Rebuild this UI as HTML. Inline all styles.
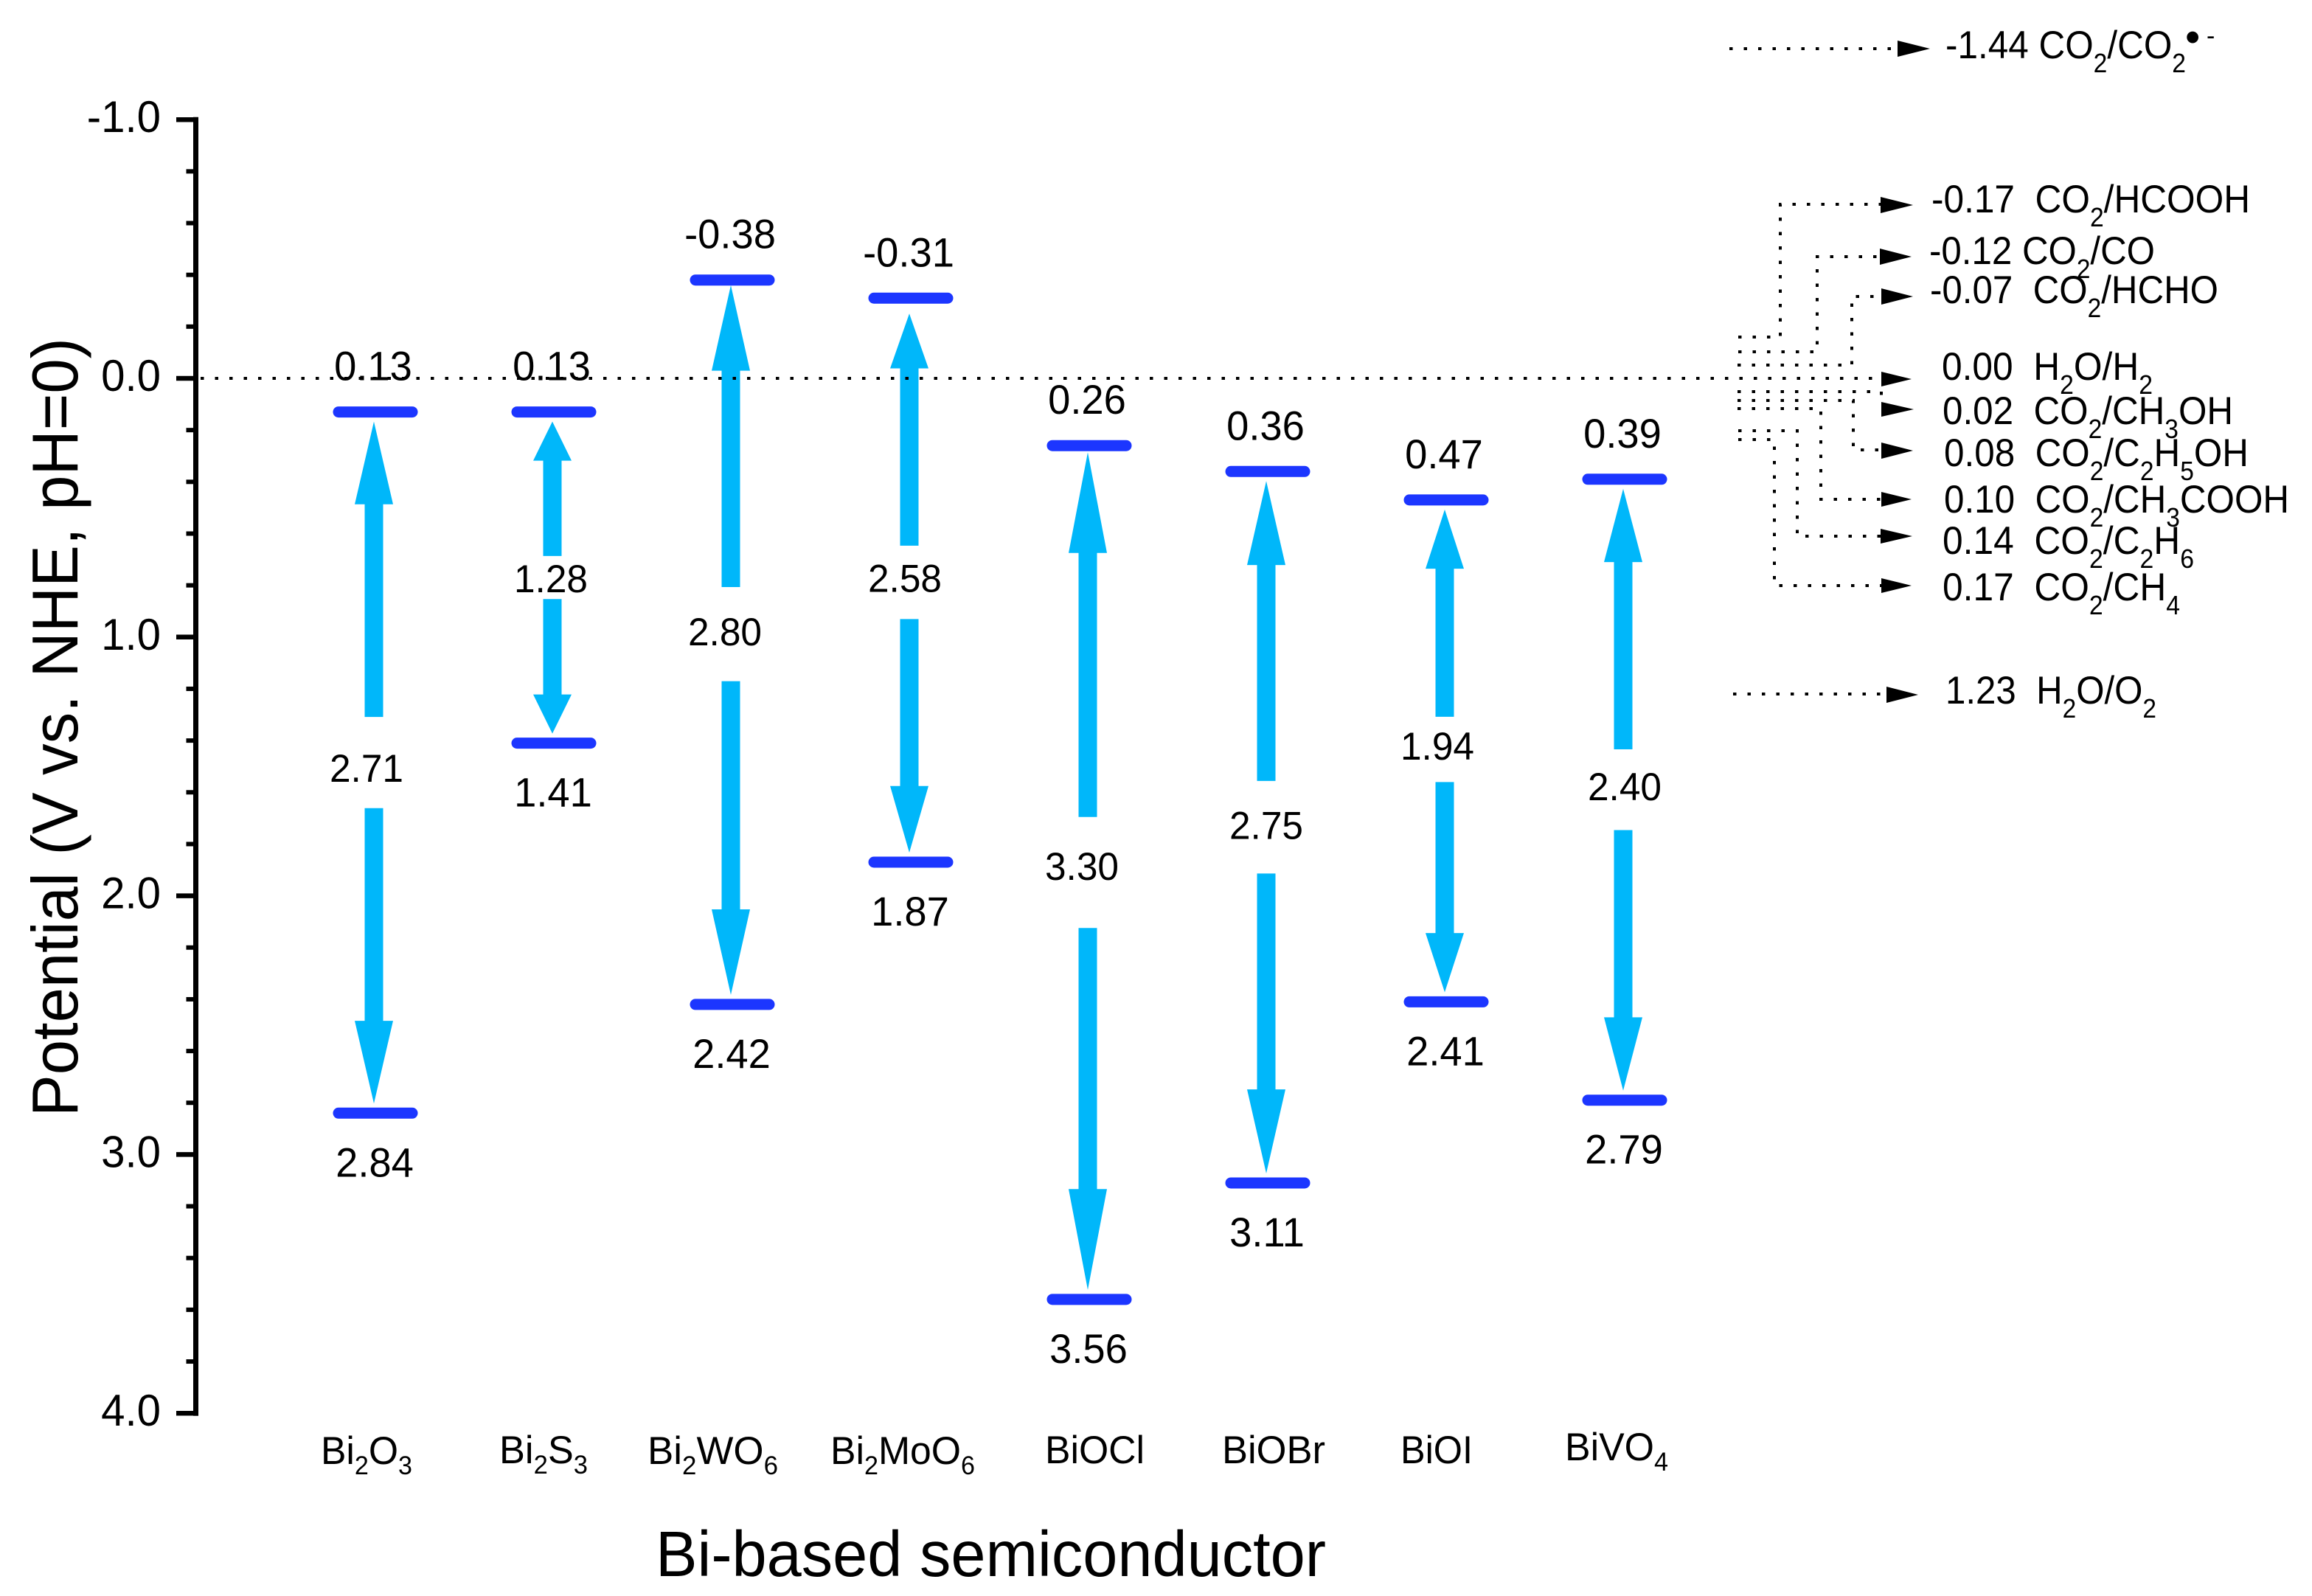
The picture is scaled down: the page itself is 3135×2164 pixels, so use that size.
<!DOCTYPE html>
<html lang="en">
<head>
<meta charset="utf-8">
<title>Band positions of Bi-based semiconductors</title>
<style>
  html, body { margin: 0; padding: 0; background: #fff; }
  svg { display: block; font-family: "Liberation Sans", Arial, sans-serif; fill: #000; }
  text { white-space: pre; }
  .dots { fill: none; stroke: #000; stroke-width: 4; stroke-dasharray: 4.5 15; }
  .couple { font-size: 53px; }
  .cat { font-size: 53px; }
</style>
</head>
<body>
<svg id="chart" xmlns="http://www.w3.org/2000/svg" width="3135" height="2164" viewBox="0 0 3135 2164">
  <rect width="3135" height="2164" fill="#fff"/>
  <g id="marks"></g>
  <g id="y-axis"></g>

  <text transform="translate(105,986) rotate(-90)" text-anchor="middle" font-size="88" textLength="1056" lengthAdjust="spacingAndGlyphs">Potential (V vs. NHE, pH=0)</text>
  <text x="889" y="2137" font-size="87" textLength="909" lengthAdjust="spacingAndGlyphs">Bi-based semiconductor</text>

  <g>
    <text class="cat" x="435" y="1985" textLength="124" lengthAdjust="spacingAndGlyphs">Bi<tspan font-size="35" dy="14">2</tspan><tspan dy="-14">O</tspan><tspan font-size="35" dy="14">3</tspan></text>
    <text class="cat" x="677" y="1984" textLength="120" lengthAdjust="spacingAndGlyphs">Bi<tspan font-size="35" dy="14">2</tspan><tspan dy="-14">S</tspan><tspan font-size="35" dy="14">3</tspan></text>
    <text class="cat" x="878" y="1985" textLength="177" lengthAdjust="spacingAndGlyphs">Bi<tspan font-size="35" dy="14">2</tspan><tspan dy="-14">WO</tspan><tspan font-size="35" dy="14">6</tspan></text>
    <text class="cat" x="1126" y="1985" textLength="196" lengthAdjust="spacingAndGlyphs">Bi<tspan font-size="35" dy="14">2</tspan><tspan dy="-14">MoO</tspan><tspan font-size="35" dy="14">6</tspan></text>
    <text class="cat" x="1417" y="1984" textLength="135" lengthAdjust="spacingAndGlyphs">BiOCl</text>
    <text class="cat" x="1657" y="1984" textLength="140" lengthAdjust="spacingAndGlyphs">BiOBr</text>
    <text class="cat" x="1899" y="1984" textLength="98" lengthAdjust="spacingAndGlyphs">BiOI</text>
    <text class="cat" x="2122" y="1980" textLength="140" lengthAdjust="spacingAndGlyphs">BiVO<tspan font-size="35" dy="14">4</tspan></text>
  </g>

  <g>
    <g>
      <path class="dots" d="M2345 66H2573"/>
      <polygon points="2573,55 2617,66 2573,77"/>
      <text class="couple" x="2638" y="79" textLength="326" lengthAdjust="spacingAndGlyphs">-1.44 CO<tspan font-size="36" dy="19">2</tspan><tspan dy="-19">/CO</tspan><tspan font-size="36" dy="19">2</tspan></text>
      <text x="2963" y="70" font-size="58">•</text>
      <text x="2992" y="60" font-size="34">-</text>
    </g>
    <g>
      <path class="dots" d="M2357 457H2414V277H2550"/>
      <polygon points="2550,267 2594,278 2550,289"/>
      <text class="couple" x="2619" y="288" textLength="432" lengthAdjust="spacingAndGlyphs">-0.17  CO<tspan font-size="36" dy="19">2</tspan><tspan dy="-19">/HCOOH</tspan></text>
    </g>
    <g>
      <path class="dots" d="M2357 477H2464V348H2549"/>
      <polygon points="2549,337 2592,348 2549,359"/>
      <text class="couple" x="2616" y="358" textLength="306" lengthAdjust="spacingAndGlyphs">-0.12 CO<tspan font-size="36" dy="19">2</tspan><tspan dy="-19">/CO</tspan></text>
    </g>
    <g>
      <path class="dots" d="M2356 495H2511V402H2551"/>
      <polygon points="2551,391 2594,402 2551,413"/>
      <text class="couple" x="2617" y="411" textLength="391" lengthAdjust="spacingAndGlyphs">-0.07  CO<tspan font-size="36" dy="19">2</tspan><tspan dy="-19">/HCHO</tspan></text>
    </g>
    <g>
      <polygon points="2551,504 2592,514 2551,524"/>
      <text class="couple" x="2633" y="515" textLength="286" lengthAdjust="spacingAndGlyphs">0.00  H<tspan font-size="36" dy="19">2</tspan><tspan dy="-19">O/H</tspan><tspan font-size="36" dy="19">2</tspan></text>
    </g>
    <g>
      <path class="dots" d="M2356 531H2551V546"/>
      <polygon points="2551,545 2595,555 2551,565"/>
      <text class="couple" x="2634" y="575" textLength="394" lengthAdjust="spacingAndGlyphs">0.02  CO<tspan font-size="36" dy="19">2</tspan><tspan dy="-19">/CH</tspan><tspan font-size="36" dy="19">3</tspan><tspan dy="-19">OH</tspan></text>
    </g>
    <g>
      <path class="dots" d="M2356 543H2513V610H2551"/>
      <polygon points="2551,600 2594,611 2551,622"/>
      <text class="couple" x="2636" y="632" textLength="413" lengthAdjust="spacingAndGlyphs">0.08  CO<tspan font-size="36" dy="19">2</tspan><tspan dy="-19">/C</tspan><tspan font-size="36" dy="19">2</tspan><tspan dy="-19">H</tspan><tspan font-size="36" dy="19">5</tspan><tspan dy="-19">OH</tspan></text>
    </g>
    <g>
      <path class="dots" d="M2356 554H2469V677H2551"/>
      <polygon points="2551,667 2592,677 2551,687"/>
      <text class="couple" x="2636" y="695" textLength="468" lengthAdjust="spacingAndGlyphs">0.10  CO<tspan font-size="36" dy="19">2</tspan><tspan dy="-19">/CH</tspan><tspan font-size="36" dy="19">3</tspan><tspan dy="-19">COOH</tspan></text>
    </g>
    <g>
      <path class="dots" d="M2357 584H2437V727H2550"/>
      <polygon points="2550,717 2593,727 2550,737"/>
      <text class="couple" x="2634" y="751" textLength="341" lengthAdjust="spacingAndGlyphs">0.14  CO<tspan font-size="36" dy="19">2</tspan><tspan dy="-19">/C</tspan><tspan font-size="36" dy="19">2</tspan><tspan dy="-19">H</tspan><tspan font-size="36" dy="19">6</tspan></text>
    </g>
    <g>
      <path class="dots" d="M2357 596H2406V794H2551"/>
      <polygon points="2551,784 2592,794 2551,804"/>
      <text class="couple" x="2634" y="814" textLength="322" lengthAdjust="spacingAndGlyphs">0.17  CO<tspan font-size="36" dy="19">2</tspan><tspan dy="-19">/CH</tspan><tspan font-size="36" dy="19">4</tspan></text>
    </g>
    <g>
      <path class="dots" d="M2350 941H2558"/>
      <polygon points="2558,931 2601,942 2558,953"/>
      <text class="couple" x="2638" y="954" textLength="286" lengthAdjust="spacingAndGlyphs">1.23  H<tspan font-size="36" dy="19">2</tspan><tspan dy="-19">O/O</tspan><tspan font-size="36" dy="19">2</tspan></text>
    </g>
  </g>
</svg>

<script>
// Chart data (potential in V vs. NHE)
const categories = ['Bi2O3', 'Bi2S3', 'Bi2WO6', 'Bi2MoO6', 'BiOCl', 'BiOBr', 'BiOI', 'BiVO4'];
const conductionBand = [0.13, 0.13, -0.38, -0.31, 0.26, 0.36, 0.47, 0.39];
const valenceBand = [2.84, 1.41, 2.42, 1.87, 3.56, 3.11, 2.41, 2.79];
const bandGap = [2.71, 1.28, 2.80, 2.58, 3.30, 2.75, 1.94, 2.40];
const yMajorTicks = [-1, 0, 1, 2, 3, 4];
const yTickLabels = ['-1.0', '0.0', '1.0', '2.0', '3.0', '4.0'];
const yMinorTicks = [-0.8, -0.6, -0.4, -0.2, 0.2, 0.4, 0.6, 0.8, 1.2, 1.4, 1.6, 1.8, 2.2, 2.4, 2.6, 2.8, 3.2, 3.4, 3.6, 3.8];

// Hand-placement offsets of the original's drawn arrows and gap labels, relative to computed positions
const nudges = {
  Bi2O3: { lx: -4, ly: 8 },
  Bi2S3: { lx: 4, ly: 2 },
  Bi2WO6: { gap: -11, lx: -2, ly: -14, tip: -6 },
  Bi2MoO6: { gap: 3, ly: -2, tip: 8, head: -16 },
  BiOCl: { lx: -2, ly: -8, tip: -4 },
  BiOBr: { lx: 6, ly: -2 },
  BiOI: { gap: -2, lx: -4, ly: -6 },
  BiVO4: { lx: 8, ly: -4 }
};

const SVG_NS = 'http://www.w3.org/2000/svg';
const marks = document.getElementById('marks');
const yAxis = document.getElementById('y-axis');

function yScale(v) { return 513 + v * 350.8; }
function xScale(i) { return 509 + i * 242; }

function mk(parent, tag, attrs, txt) {
  const el = document.createElementNS(SVG_NS, tag);
  for (const k in attrs) el.setAttribute(k, attrs[k]);
  if (txt !== undefined) el.textContent = txt;
  parent.appendChild(el);
  return el;
}

// The reference's type is slightly condensed: keep the height, tighten the run width.
function condense(el, factor) {
  el.setAttribute('textLength', el.getComputedTextLength() * factor);
  el.setAttribute('lengthAdjust', 'spacingAndGlyphs');
}

// y axis
const axisX = 265.5;
const spine = mk(yAxis, 'line', { x1: axisX, x2: axisX, y1: yScale(-1) - 3.5, y2: yScale(4) + 3.5, stroke: '#000', 'stroke-width': 7 });



yMajorTicks.forEach((v, i) => {
  const tick = mk(yAxis, 'line', { x1: 239, x2: axisX, y1: yScale(v), y2: yScale(v), stroke: '#000', 'stroke-width': 6.5 });
  
  
  const label = mk(yAxis, 'text', { x: 218, y: yScale(v) + 17, 'text-anchor': 'end', 'font-size': 60 }, yTickLabels[i]);
  
  
  condense(label, 0.97);
});

yMinorTicks.forEach(v => {
  const tick = mk(yAxis, 'line', { x1: 252.5, x2: axisX, y1: yScale(v), y2: yScale(v), stroke: '#000', 'stroke-width': 6 });
  
  
});

// band arrows, edges and value labels
const ARROW = '#00b7fa';
const BAR = '#1c36ff';
categories.forEach((name, i) => {
  const n = nudges[name];
  const x = xScale(i);
  const ax = x - 2;
  const cb = yScale(conductionBand[i]);
  const vb = yScale(valenceBand[i]);
  const span = vb - cb;
  const headBot = 0.118 * span;
  const headTop = headBot + (n.head || 0);
  const mid = (cb + vb) / 2 + (n.gap || 0);
  const gap = 0.13 * span;
  const hw = 26, sw = 12.5;
  const tipTop = cb + 13 + (n.tip || 0), tipBot = vb - 13;

  const up = mk(marks, 'polygon', {
    fill: ARROW,
    points: [[ax, tipTop], [ax + hw, tipTop + headTop], [ax + sw, tipTop + headTop], [ax + sw, mid - gap / 2],
             [ax - sw, mid - gap / 2], [ax - sw, tipTop + headTop], [ax - hw, tipTop + headTop]].join(' ')
  });
  
  

  const down = mk(marks, 'polygon', {
    fill: ARROW,
    points: [[ax, tipBot], [ax + hw, tipBot - headBot], [ax + sw, tipBot - headBot], [ax + sw, mid + gap / 2],
             [ax - sw, mid + gap / 2], [ax - sw, tipBot - headBot], [ax - hw, tipBot - headBot]].join(' ')
  });
  
  

  const cbBar = mk(marks, 'rect', { x: x - 57.5, y: cb - 7.5, width: 115, height: 15, rx: 7.5, fill: BAR });
  
  

  const vbBar = mk(marks, 'rect', { x: x - 57.5, y: vb - 7.5, width: 115, height: 15, rx: 7.5, fill: BAR });
  
  

  const cbLabel = mk(marks, 'text', { x: ax - 1, y: cb - 43, 'text-anchor': 'middle', 'font-size': 56 }, conductionBand[i].toFixed(2));
  
  
  condense(cbLabel, 0.97);

  const vbLabel = mk(marks, 'text', { x: ax + 1, y: vb + 86, 'text-anchor': 'middle', 'font-size': 56 }, valenceBand[i].toFixed(2));
  
  
  condense(vbLabel, 0.97);

  const gapLabel = mk(marks, 'text', { x: ax - 6 + (n.lx || 0), y: (cb + vb) / 2 + 18 + (n.ly || 0), 'text-anchor': 'middle', 'font-size': 53 }, bandGap[i].toFixed(2));
  
  
  condense(gapLabel, 0.97);
});

// zero-potential reference line, drawn over the arrows
const zeroLine = mk(marks, 'line', { x1: 272, x2: 2551, y1: yScale(0), y2: yScale(0), class: 'dots' });


</script>
</body>
</html>
